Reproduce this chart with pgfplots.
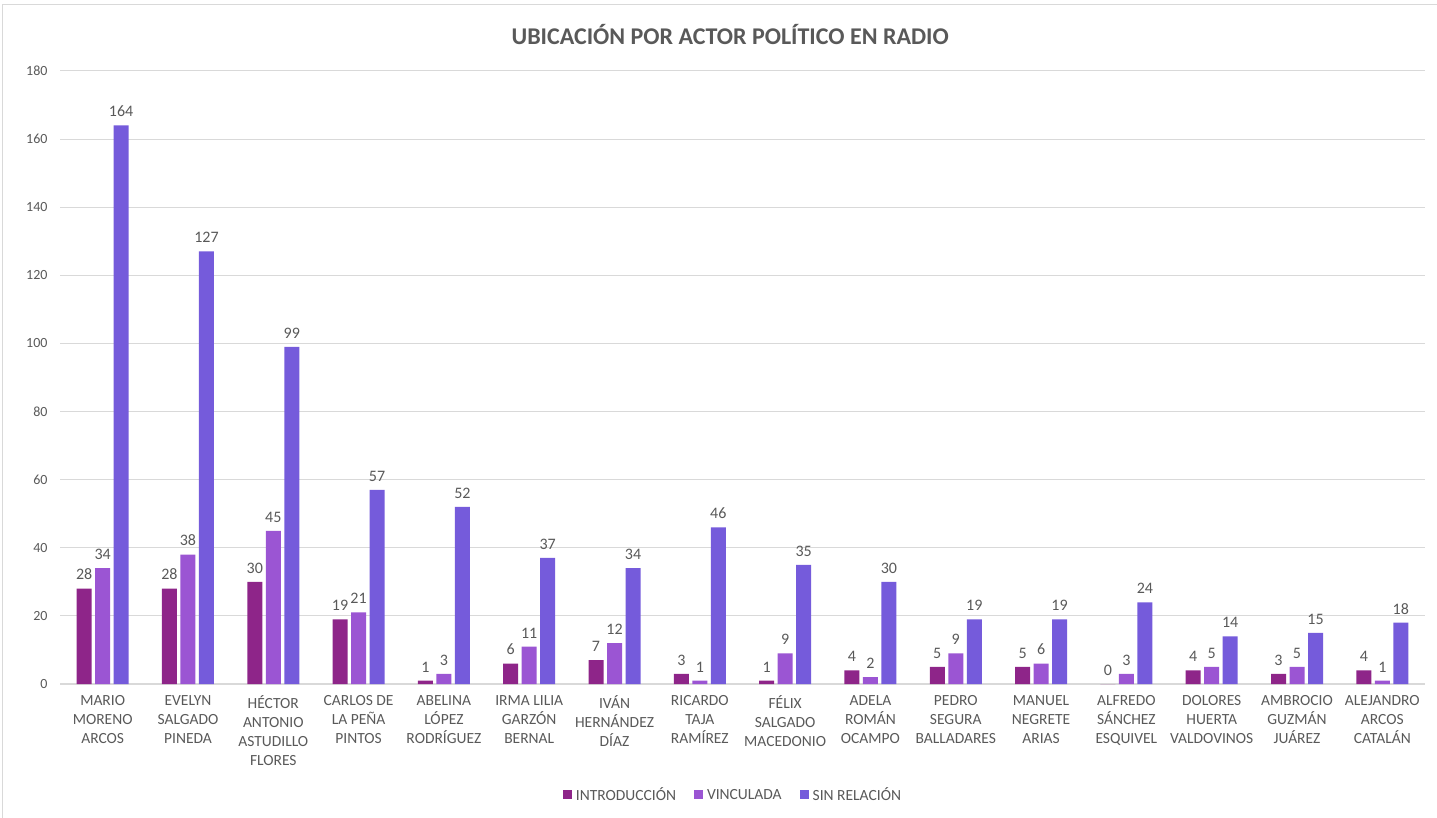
\documentclass[border=0pt]{standalone}
\usepackage{fontspec}
\setmainfont{Carlito}
\usepackage{pgfplots}
\pgfplotsset{compat=1.18}
\definecolor{cIntro}{HTML}{8E2589}
\definecolor{cVinc}{HTML}{9B55D3}
\definecolor{cSin}{HTML}{755BDB}
\definecolor{txt}{HTML}{595959}
\definecolor{grd}{HTML}{D9D9D9}
\begin{document}
\begin{tikzpicture}[x=1pt,y=1pt]
\path[use as bounding box] (0,0) rectangle (1437,817);
\draw[grd,line width=1pt] (2,-5) rectangle (1440,812);
\begin{axis}[
  at={(60pt,133pt)}, anchor=south west,
  scale only axis, width=1365pt, height=613pt,
  ybar=3.5pt, bar width=15pt,
  xmin=-0.5, xmax=15.5, ymin=0, ymax=180,
  ytick={0,20,...,180},
  xtick={0,...,15},
  xticklabels={{MARIO\\MORENO\\ARCOS},{EVELYN\\SALGADO\\PINEDA},{HÉCTOR\\ANTONIO\\ASTUDILLO\\FLORES},{CARLOS DE\\LA PEÑA\\PINTOS},{ABELINA\\LÓPEZ\\RODRÍGUEZ},{IRMA LILIA\\GARZÓN\\BERNAL},{IVÁN\\HERNÁNDEZ\\DÍAZ},{RICARDO\\TAJA\\RAMÍREZ},{FÉLIX\\SALGADO\\MACEDONIO},{ADELA\\ROMÁN\\OCAMPO},{PEDRO\\SEGURA\\BALLADARES},{MANUEL\\NEGRETE\\ARIAS},{ALFREDO\\SÁNCHEZ\\ESQUIVEL},{DOLORES\\HUERTA\\VALDOVINOS},{AMBROCIO\\GUZMÁN\\JUÁREZ},{ALEJANDRO\\ARCOS\\CATALÁN}},
  xticklabel style={align=center, font=\fontsize{15.5}{19}\selectfont, text=txt, yshift=-8pt},
  yticklabel style={font=\fontsize{14}{16}\selectfont, text=txt, xshift=-9pt},
  /pgf/number format/assume math mode=true,
  major tick length=0pt,
  axis line style={draw=none},
  axis x line*=bottom,
  axis y line*=left,
  ymajorgrids, grid style={grd, line width=1pt},
  extra y ticks={0}, extra y tick labels={},
  extra y tick style={grid style={draw=grd,line width=1.3pt}},
  nodes near coords,
  nodes near coords style={font=\fontsize{16}{18}\selectfont, text=txt, yshift=5pt},
  title={\bfseries UBICACIÓN POR ACTOR POLÍTICO EN RADIO},
  title style={at={(0.491,1.055)}, anchor=center, font=\fontsize{24}{28}\selectfont, text=txt, yshift=-3pt},
  legend columns=3,
  legend style={at={(0.493,-0.181)}, anchor=center, draw=none, font=\fontsize{15.5}{17}\selectfont, text=txt,
    /tikz/every even column/.append style={column sep=16pt}},
  legend image code/.code={\fill[#1,draw=none] (0pt,-4.5pt) rectangle (9pt,4.5pt);},
]
\addplot[fill=cIntro, draw=none] coordinates {(0,28)(1,28)(2,30)(3,19)(4,1)(5,6)(6,7)(7,3)(8,1)(9,4)(10,5)(11,5)(12,0)(13,4)(14,3)(15,4)};
\addplot[fill=cVinc, draw=none] coordinates {(0,34)(1,38)(2,45)(3,21)(4,3)(5,11)(6,12)(7,1)(8,9)(9,2)(10,9)(11,6)(12,3)(13,5)(14,5)(15,1)};
\addplot[fill=cSin, draw=none] coordinates {(0,164)(1,127)(2,99)(3,57)(4,52)(5,37)(6,34)(7,46)(8,35)(9,30)(10,19)(11,19)(12,24)(13,14)(14,15)(15,18)};
\legend{\hspace{2pt}INTRODUCCIÓN,\hspace{2pt}VINCULADA,\hspace{2pt}SIN RELACIÓN}
\end{axis}
\end{tikzpicture}
\end{document}
